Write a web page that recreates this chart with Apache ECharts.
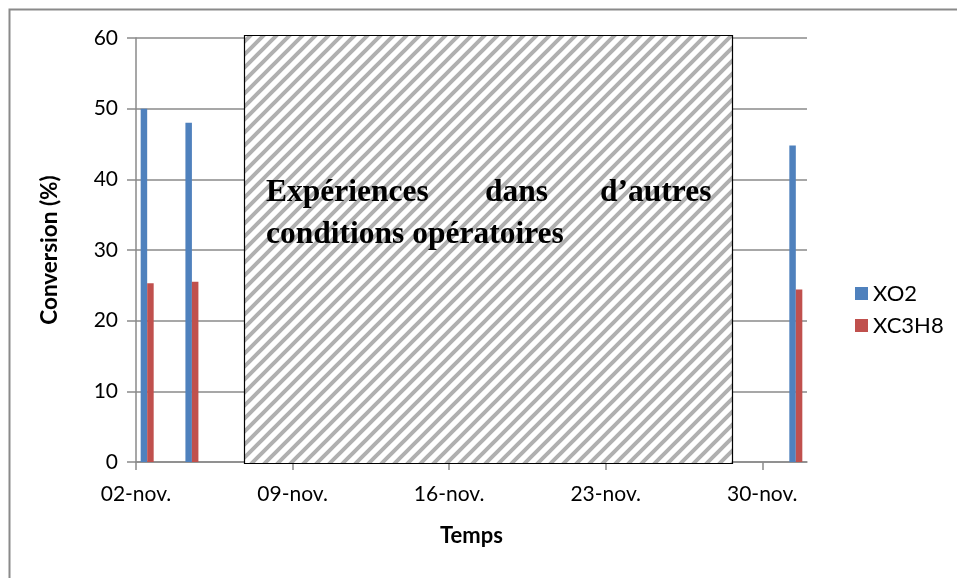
<!DOCTYPE html>
<html>
<head>
<meta charset="utf-8">
<script src="https://cdn.jsdelivr.net/npm/echarts@6/dist/echarts.min.js"></script>
<style>
  html, body { margin: 0; padding: 0; background: #fff; }
  #chart { width: 957px; height: 578px; }
</style>
</head>
<body>
<div id="chart"></div>
<script>
// jours depuis le 02-nov.
var measureDays = [0, 2, 29];
var measureLabels = ['02-nov.', '04-nov.', '01-déc.'];
var xO2 = [50, 48, 44.8];
var xC3H8 = [25.3, 25.5, 24.4];

var tickDays = [0, 7, 14, 21, 28];
var tickLabels = ['02-nov.', '09-nov.', '16-nov.', '23-nov.', '30-nov.'];

var font = 'Lato, "Open Sans", sans-serif';
var gray = '#8a8a8a';
var serif = 'bold 31.5px "Liberation Serif", serif';

// motif hachuré pour la zone "autres conditions"
function hatch() {
    var s = 13;
    var c = document.createElement('canvas');
    c.width = s; c.height = s;
    var ctx = c.getContext('2d');
    ctx.fillStyle = '#fff';
    ctx.fillRect(0, 0, s, s);
    ctx.strokeStyle = '#b0b0b0';
    ctx.lineWidth = 4;
    ctx.beginPath();
    ctx.moveTo(-s, 2 * s); ctx.lineTo(2 * s, -s);
    ctx.moveTo(-s, s); ctx.lineTo(s, -s);
    ctx.moveTo(0, 2 * s); ctx.lineTo(2 * s, 0);
    ctx.stroke();
    return c;
}

function pairs(vals) {
    return measureDays.map(function (d, i) { return [d + 0.5, vals[i]]; });
}

var chart = echarts.init(document.getElementById('chart'));
var option = {
    animation: false,
    backgroundColor: '#fff',
    grid: { left: 136, right: 150, top: 38, bottom: 116 },
    legend: {
        orient: 'vertical',
        left: 850, top: 277,
        itemWidth: 13, itemHeight: 13,
        itemGap: 9,
        icon: 'rect',
        textStyle: { fontFamily: font, fontSize: 22, color: '#000', lineHeight: 23 },
        data: ['XO2', 'XC3H8']
    },
    xAxis: {
        type: 'value',
        min: 0, max: 30,
        name: 'Temps',
        nameLocation: 'middle',
        nameGap: 63,
        nameTextStyle: { fontFamily: font, fontSize: 22, fontWeight: 'bold', color: '#000' },
        axisLine: { show: true, lineStyle: { color: gray, width: 1.5 } },
        axisTick: { show: true, length: 8, customValues: tickDays, lineStyle: { color: gray, width: 1.5 } },
        axisLabel: {
            customValues: tickDays,
            margin: 22,
            fontFamily: font, fontSize: 21, color: '#000',
            formatter: function (v) {
                var i = tickDays.indexOf(v);
                return i >= 0 ? tickLabels[i] : '';
            }
        },
        splitLine: { show: false }
    },
    yAxis: {
        type: 'value',
        min: 0, max: 60, interval: 10,
        name: 'Conversion (%)',
        nameLocation: 'middle',
        nameGap: 75,
        nameTextStyle: { fontFamily: font, fontSize: 22.5, fontWeight: 'bold', color: '#000' },
        axisLine: { show: true, lineStyle: { color: gray, width: 1.5 } },
        axisTick: { show: true, length: 9, lineStyle: { color: gray, width: 1.5 } },
        axisLabel: { margin: 18, fontFamily: font, fontSize: 21, color: '#000' },
        splitLine: { show: true, lineStyle: { color: gray, width: 1.5 } }
    },
    series: [
        {
            name: 'XO2', type: 'bar', barWidth: 6.5, barGap: '0%',
            itemStyle: { color: '#4f81bd' },
            data: pairs(xO2)
        },
        {
            name: 'XC3H8', type: 'bar', barWidth: 6.5, barGap: '0%',
            itemStyle: { color: '#c0504d' },
            data: pairs(xC3H8)
        }
    ],
    graphic: [
        {
            type: 'rect', z: 0, silent: true,
            shape: { x: 9.5, y: 9.5, width: 1000, height: 1000 },
            style: { fill: 'none', stroke: gray, lineWidth: 2 }
        },
        {
            type: 'rect', z: 100,
            shape: { x: 244.5, y: 35.5, width: 488, height: 428 },
            style: { fill: { image: hatch(), repeat: 'repeat' }, stroke: '#000', lineWidth: 1.2 }
        },
        {
            type: 'text', z: 101, left: 266, top: 177,
            style: { text: 'Expériences', font: serif, fill: '#000' }
        },
        {
            type: 'text', z: 101, left: 485, top: 177,
            style: { text: 'dans', font: serif, fill: '#000' }
        },
        {
            type: 'text', z: 101, left: 600, top: 177,
            style: { text: 'd’autres', font: serif, fill: '#000' }
        },
        {
            type: 'text', z: 101, left: 266, top: 219,
            style: { text: 'conditions opératoires', font: serif, fill: '#000' }
        }
    ]
};
chart.setOption(option);
</script>
</body>
</html>
